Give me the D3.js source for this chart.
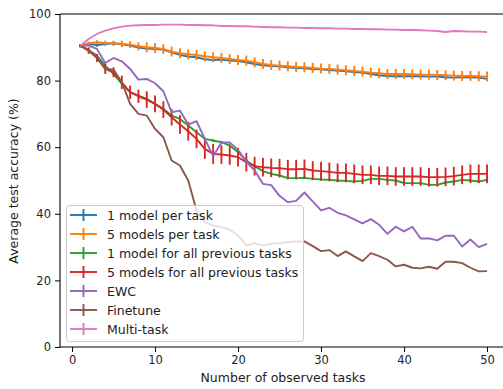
<!DOCTYPE html>
<html><head><meta charset="utf-8">
<script src="https://cdn.jsdelivr.net/npm/d3@7"></script>
<style>html,body{margin:0;padding:0;background:#fff;}svg{display:block;font-family:"DejaVu Sans",sans-serif;}</style>
</head><body>
<svg id="c" width="503" height="389"></svg>
<script>
const tasks = d3.range(1, 51);
const seriesNames = ["1 model per task","5 models per task","1 model for all previous tasks","5 models for all previous tasks","EWC","Finetune","Multi-task"];
const colors = ["#1f77b4","#ff7f0e","#2ca02c","#d62728","#9467bd","#8c564b","#e377c2"];
const onePerTask = [90.5,91.0,90.7,91.0,91.2,90.9,90.5,89.9,89.6,89.5,89.3,88.5,87.7,87.2,87.0,86.4,86.2,86.3,86.0,85.9,85.5,85.0,84.6,84.4,84.3,84.0,83.8,83.7,83.5,83.4,83.2,83.0,82.8,82.6,82.4,82.0,81.6,81.4,81.3,81.3,81.3,81.3,81.2,81.2,81.0,80.9,81.0,81.0,80.9,80.5];
const onePerTaskErr = Array(50).fill(0.5);
const fivePerTask = [90.5,91.2,91.5,91.3,91.2,91.0,90.8,90.3,90.0,89.8,89.5,88.7,88.2,87.9,87.7,87.3,87.0,86.8,86.5,86.2,86.0,85.5,85.0,84.7,84.5,84.3,84.1,84.0,83.8,83.6,83.5,83.3,83.1,82.9,82.7,82.4,82.2,82.0,82.0,82.0,81.9,81.8,81.8,81.7,81.6,81.5,81.4,81.4,81.3,81.2];
const fivePerTaskErr = [0.3,0.5,0.6,0.7,0.8,1.0,1.0,1.2,1.5,1.5,1.5,1.5,1.5,1.5,1.5,1.5,1.5,1.5,1.5,1.5,1.5,1.5,1.5,1.5,1.5,1.5,1.5,1.5,1.5,1.5,1.5,1.5,1.5,1.5,1.5,1.5,1.5,1.5,1.5,1.5,1.5,1.5,1.5,1.5,1.5,1.5,1.5,1.5,1.5,1.5];
const oneAllPrev = [90.5,89.2,87.5,84.5,82.0,79.0,76.5,75.5,74.5,73.0,71.5,69.5,68.5,66.5,64.5,62.5,62.0,61.5,60.5,58.5,56.0,54.3,52.8,52.0,51.5,50.7,50.7,50.8,50.5,50.3,50.2,50.0,49.9,49.7,49.9,50.5,50.5,50.2,50.0,49.2,49.2,49.2,48.7,48.7,49.4,49.7,50.2,50.0,49.7,50.2];
const oneAllPrevErr = Array(50).fill(0.4);
const fiveAllPrev = [90.5,89.0,86.8,83.5,82.5,79.5,76.5,75.3,74.3,73.0,71.3,69.0,66.8,64.8,62.5,59.5,58.0,57.8,57.5,57.0,55.5,54.3,54.0,53.8,53.7,53.4,53.4,53.5,53.0,52.8,52.6,52.3,52.3,52.0,51.7,51.7,51.4,51.4,51.2,51.2,51.2,51.2,51.0,51.0,51.1,51.3,51.7,52.0,52.0,52.0];
const fiveAllPrevErr = [0.5,1.0,1.2,1.5,1.5,2.0,2.0,2.0,2.5,2.5,2.5,2.5,2.8,2.8,2.8,3.0,3.0,2.8,2.8,2.8,2.8,2.8,2.8,2.8,2.8,2.8,2.8,2.8,2.8,2.8,2.8,2.8,2.8,2.8,2.8,2.8,2.8,2.8,2.8,2.8,2.8,2.8,2.8,2.8,2.8,2.8,2.8,2.8,2.8,2.8];
const ewc = [90.5,90.5,89.5,85.3,86.8,85.8,83.5,80.3,80.5,79.2,76.8,70.5,71.0,66.8,67.8,62.5,57.3,61.4,61.4,59.2,55.7,53.0,49.0,48.6,45.4,43.5,43.9,46.4,43.7,41.0,41.8,40.3,39.5,38.3,37.1,38.4,36.7,34.0,36.1,34.7,36.1,32.6,32.6,32.0,33.4,33.4,30.2,32.3,30.0,31.0];
const finetune = [90.5,89.0,87.0,83.5,83.3,79.5,73.0,70.0,69.5,65.5,63.0,56.0,54.5,50.0,41.0,37.5,36.5,36.0,35.2,33.5,30.5,31.2,30.5,31.0,31.2,31.5,31.7,31.7,30.3,28.8,29.1,27.3,28.7,27.2,25.8,28.2,27.3,26.2,24.2,24.7,23.8,23.6,24.1,23.5,25.6,25.6,25.2,23.8,22.7,22.8];
const multiTask = [90.5,92.5,94.0,95.0,95.7,96.2,96.5,96.6,96.7,96.7,96.8,96.8,96.8,96.7,96.7,96.6,96.6,96.4,96.4,96.3,96.3,96.2,96.1,96.0,96.0,95.9,95.9,95.8,95.8,95.7,95.7,95.6,95.6,95.5,95.5,95.4,95.4,95.3,95.3,95.2,95.2,95.1,95.0,94.9,94.6,94.9,94.8,94.7,94.7,94.6];
const zeros = Array(50).fill(0);
const xTicks = [0,10,20,30,40,50];
const yTicks = [0,20,40,60,80,100];

const values = [onePerTask,fivePerTask,oneAllPrev,fiveAllPrev,ewc,finetune,multiTask];
const errs = [onePerTaskErr,fivePerTaskErr,oneAllPrevErr,fiveAllPrevErr,zeros,zeros,zeros];

const svg = d3.select("#c");
const L = 60, T = 14, B = 347;
const x = d3.scaleLinear().domain([-1.45, 52.45]).range([L, L + 53.9 * 8.3]);
const y = d3.scaleLinear().domain([0, 100]).range([B, T]);

const plot = svg.append("g");
const line = d3.line().x((d,i)=>x(tasks[i])).y(d=>y(d));
values.forEach((vals, s) => {
  const g = plot.append("g");
  g.append("path").datum(vals).attr("d", line).attr("fill","none")
    .attr("stroke", colors[s]).attr("stroke-width", 1.9).attr("stroke-linejoin","round");
  g.selectAll("line").data(vals.map((v,i)=>({t:tasks[i], v, e:errs[s][i]})).filter(d=>d.e>0))
    .enter().append("line")
    .attr("x1", d=>x(d.t)).attr("x2", d=>x(d.t))
    .attr("y1", d=>y(d.v - d.e)).attr("y2", d=>y(d.v + d.e))
    .attr("stroke", colors[s]).attr("stroke-width", 1.9);
});

// axes
const xAxis = svg.append("g").attr("transform", `translate(0,${B})`)
  .call(d3.axisBottom(x).tickValues(xTicks).tickSize(5).tickPadding(4).tickFormat(d3.format("d")));
const yAxis = svg.append("g").attr("transform", `translate(${L},0)`)
  .call(d3.axisLeft(y).tickValues(yTicks).tickSize(5).tickPadding(4).tickFormat(d3.format("d")));
[xAxis, yAxis].forEach(a => {
  a.select(".domain").remove();
  a.selectAll("line").attr("stroke", "#000").attr("stroke-width", 1);
  a.selectAll("text").attr("font-size", 11.5).attr("fill", "#222").attr("font-family", "DejaVu Sans");
});
// spines
svg.append("line").attr("x1", L).attr("x2", L).attr("y1", T).attr("y2", B).attr("stroke","#000").attr("stroke-width",1.1);
svg.append("line").attr("x1", L).attr("x2", 503).attr("y1", B).attr("y2", B).attr("stroke","#000").attr("stroke-width",1.1);
svg.append("line").attr("x1", L).attr("x2", 503).attr("y1", T).attr("y2", T).attr("stroke","#000").attr("stroke-width",1.1);

svg.append("text").attr("x", 283).attr("y", 382).attr("text-anchor","middle")
  .attr("font-size", 12.5).attr("fill","#222").text("Number of observed tasks");
svg.append("text").attr("transform", `translate(18,${181}) rotate(-90)`).attr("text-anchor","middle")
  .attr("font-size", 12.5).attr("fill","#222").text("Average test accuracy (%)");

// legend
const lg = svg.append("g");
lg.append("rect").attr("x", 66.5).attr("y", 205.5).attr("width", 237).attr("height", 136)
  .attr("rx", 3).attr("fill", "rgba(255,255,255,0.8)").attr("stroke", "#cccccc").attr("stroke-width", 1);
seriesNames.forEach((name, i) => {
  const cy = 215 + i * 19;
  lg.append("line").attr("x1", 70).attr("x2", 97).attr("y1", cy).attr("y2", cy)
    .attr("stroke", colors[i]).attr("stroke-width", 1.9);
  lg.append("line").attr("x1", 83.5).attr("x2", 83.5).attr("y1", cy - 6).attr("y2", cy + 6)
    .attr("stroke", colors[i]).attr("stroke-width", 1.9);
  lg.append("text").attr("x", 107).attr("y", cy + 4.5).attr("font-size", 12.5).attr("fill", "#222").text(name);
});
</script>
</body></html>
